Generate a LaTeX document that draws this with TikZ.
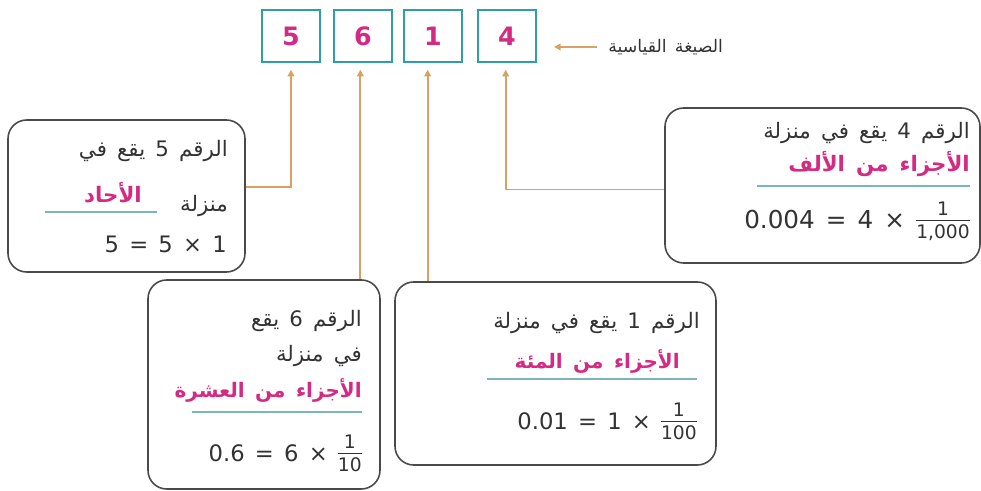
\documentclass[tikz,border=0pt]{standalone}
\usepackage{fontspec}
\setmainfont{DejaVu Sans}
\newfontfamily\arabicfont[Script=Arabic,WordSpace=1.5]{DejaVu Sans}
\TeXXeTstate=1
\usetikzlibrary{arrows.meta}
\definecolor{teal1}{HTML}{2E9FA6}
\definecolor{mag}{HTML}{D42A82}
\definecolor{tan1}{HTML}{D9A262}
\definecolor{bord}{HTML}{4A4A4A}
\definecolor{txt}{HTML}{333333}
\definecolor{uline}{HTML}{7BB7BA}
\newcommand\ar[1]{{\arabicfont\beginR #1\endR}}
\newcommand\sep{\hspace{0.45em}}
\newcommand\tok[1]{\mbox{#1}}
\newcommand\myfr[2]{$\vcenter{\hbox{\fontsize{14}{15}\selectfont\begin{tabular}{@{}c@{}}#1\\[-1pt]\hline\rule{0pt}{13pt}#2\end{tabular}}}$}
\newcommand\eqn[1]{\beginL #1\endL}
\begin{document}
\begin{tikzpicture}[x=0.75pt,y=-0.75pt,
 digit/.style={draw=teal1,line width=1.6pt,minimum width=43pt,minimum height=39pt,inner sep=0pt,text=mag,font=\fontsize{19}{19}\selectfont\bfseries},
 card/.style={draw=bord,line width=1.2pt,rounded corners=14pt,inner sep=0pt},
 conn/.style={draw=tan1,line width=1.3pt,-{Triangle[length=5pt,width=5pt]},shorten >=5pt},
 lbl/.style={anchor=east,inner sep=0pt,text=txt,font=\fontsize{16}{18}\selectfont},
 tag/.style={anchor=west,inner sep=0pt,text=txt,font=\fontsize{13}{15}\selectfont},
 ans/.style={anchor=east,inner sep=0pt,text=mag,font=\fontsize{16}{18}\selectfont\bfseries},
 eq/.style={anchor=east,inner sep=0pt,text=txt,font=\fontsize{17}{19}\selectfont},
 blank/.style={draw=uline,line width=1pt}]
\useasboundingbox[fill=white] (0,0) rectangle (981,491);
% digit boxes
\node[digit] (d5) at (291,36) {5};
\node[digit] (d6) at (363,36) {6};
\node[digit] (d1) at (433,36) {1};
\node[digit] (d4) at (507,36) {4};
% standard form label
\node[tag] (std) at (608,47) {\ar{الصيغة القياسية}};
\draw[conn,shorten >=0pt] ([xshift=-8pt]std.west) -- ([xshift=13pt]d4.east |- std.west);
% cards
\node[card,minimum width=177.75pt,minimum height=114pt] (c5) at (126.5,196) {};
\node[card,minimum width=236.25pt,minimum height=116.25pt] (c4) at (822.5,185.5) {};
\node[card,minimum width=174pt,minimum height=156.75pt] (c6) at (264,384.5) {};
\node[card,minimum width=240.75pt,minimum height=137.25pt] (c1) at (555.5,373.5) {};
% connectors
\draw[conn] ([yshift=6.5pt]c5.east) -| (d5.south);
\draw[conn] ([yshift=-3pt]c4.west) -| ([xshift=-1pt]d4.south);
\draw[conn] ([xshift=-2pt]d6.south |- c6.north) -- ([xshift=-2pt]d6.south);
\draw[conn] ([xshift=-4pt]d1.south |- c1.north) -- ([xshift=-4pt]d1.south);
% card 5
\node[lbl] (t5a) at (228,151) {\ar{الرقم 5 يقع في}};
\node[ans] (t5c) at (142,193) {\ar{الأحاد}};
\node[lbl] (t5b) at (228,206) {\ar{منزلة}};
\draw[blank] (45,212) -- (157,212);
\node[eq] (t5d) at (227,244) {\eqn{\tok{5}\sep\tok{=}\sep\tok{5}\sep\tok{×}\sep\tok{1}}};
% card 4
\node[lbl] (t4a) at (970,133) {\ar{الرقم 4 يقع في منزلة}};
\node[ans] (t4c) at (970,164) {\ar{الأجزاء من الألف}};
\draw[blank] (757,186) -- (970,186);
\node[eq,font=\fontsize{18.5}{20}\selectfont] (t4d) at (970,223) {\eqn{\tok{0.004}\sep\tok{=}\sep\tok{4}\sep\tok{×}\sep\myfr{1}{1,000}}};
% card 6
\node[lbl] (t6a) at (362,321) {\ar{الرقم 6 يقع}};
\node[lbl] (t6b) at (362,356) {\ar{في منزلة}};
\node[ans,font=\fontsize{15}{17}\selectfont\bfseries] (t6c) at (362,390) {\ar{الأجزاء من العشرة}};
\draw[blank] (192,412) -- (362,412);
\node[eq] (t6d) at (362,456) {\eqn{\tok{0.6}\sep\tok{=}\sep\tok{6}\sep\tok{×}\sep\myfr{1}{10}}};
% card 1
\node[lbl] (t1a) at (700,323) {\ar{الرقم 1 يقع في منزلة}};
\node[ans,font=\fontsize{15}{17}\selectfont\bfseries] (t1c) at (680,361) {\ar{الأجزاء من المئة}};
\draw[blank] (487,379) -- (697,379);
\node[eq] (t1d) at (697,424) {\eqn{\tok{0.01}\sep\tok{=}\sep\tok{1}\sep\tok{×}\sep\myfr{1}{100}}};
\end{tikzpicture}
\end{document}
